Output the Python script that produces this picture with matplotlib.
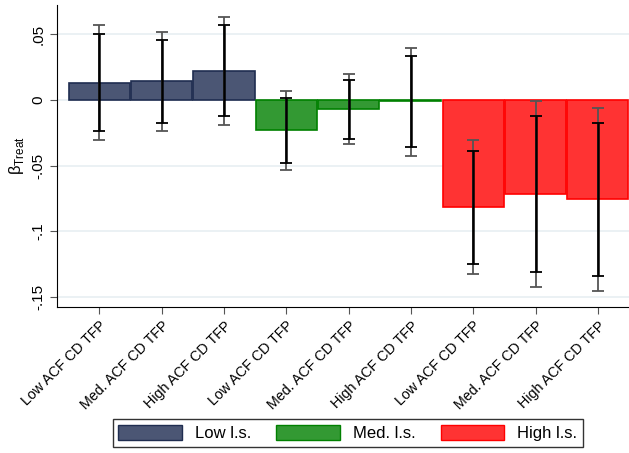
import numpy as np
import matplotlib
matplotlib.use("Agg")
import matplotlib.pyplot as plt
from matplotlib.patches import Patch

plt.rcParams['font.family'] = ['Liberation Sans', 'DejaVu Sans']
plt.rcParams['mathtext.fontset'] = 'custom'
plt.rcParams['mathtext.rm'] = 'Liberation Sans'

labels = ["Low ACF CD TFP", "Med. ACF CD TFP", "High ACF CD TFP"] * 3
groups = ["Low l.s.", "Med. l.s.", "High l.s."]
beta = [0.0132, 0.0142, 0.0219, -0.0231, -0.0066, -0.0005, -0.0816, -0.0714, -0.0757]
ci95_lo = [-0.0305, -0.0236, -0.0190, -0.0531, -0.0338, -0.0429, -0.1329, -0.1423, -0.1453]
ci95_hi = [0.0570, 0.0516, 0.0635, 0.0066, 0.0198, 0.0399, -0.0305, -0.0010, -0.0059]
ci90_lo = [-0.0234, -0.0175, -0.0124, -0.0483, -0.0295, -0.0361, -0.1248, -0.1309, -0.1341]
ci90_hi = [0.0500, 0.0457, 0.0570, 0.0018, 0.0155, 0.0335, -0.0386, -0.0124, -0.0173]

fills = ["#4b5674", "#339933", "#ff3333"]
edges = ["#1f2d50", "#008000", "#ff0000"]

fig = plt.figure(figsize=(6.29, 4.53), dpi=100)
ax = fig.add_axes([0.0906, 0.3223, 0.9094, 0.6667])

x = np.arange(len(beta))
for i in range(len(beta)):
    g = i // 3
    ax.bar(x[i], beta[i], width=0.98, color=fills[g], edgecolor=edges[g], linewidth=1.2, zorder=2)

b = np.array(beta)
ax.errorbar(x, b, yerr=[b - np.array(ci95_lo), np.array(ci95_hi) - b], fmt='none',
            ecolor="#555555", elinewidth=1.3, capsize=4, capthick=1.3, zorder=3)
ax.errorbar(x, b, yerr=[b - np.array(ci90_lo), np.array(ci90_hi) - b], fmt='none',
            ecolor="black", elinewidth=1.8, capsize=4, capthick=1.3, zorder=4)

ax.set_xlim(-0.68, 8.5)
ax.set_ylim(-0.1578, 0.0724)
yt = [0.05, 0, -0.05, -0.1, -0.15]
ax.set_yticks(yt)
ax.set_yticklabels([".05", "0", "-.05", "-.1", "-.15"], rotation=90, va='center', fontsize=11)
ax.grid(axis='y', color="#e8eff2", linewidth=1.2, zorder=0)
ax.set_axisbelow(True)
ax.set_xticks(x)
ax.set_xticklabels(labels, rotation=45, ha='right', rotation_mode='anchor', fontsize=10.3)
ax.tick_params(axis='x', length=5, color="#555555")
ax.tick_params(axis='y', length=5, color="#555555")
ax.spines['top'].set_visible(False)
ax.spines['right'].set_visible(False)
ax.set_ylabel(r"β$_{\mathrm{Treat}}$", fontsize=12, labelpad=4)

handles = [Patch(facecolor=fills[k], edgecolor=edges[k]) for k in range(3)]
fig.legend(handles, groups, loc='center', bbox_to_anchor=(0.553, 0.044), ncol=3,
           fontsize=12, frameon=True, fancybox=False, edgecolor="black",
           handlelength=3.8, handleheight=1.0, columnspacing=1.5, borderpad=0.35)

fig.savefig("out.png", dpi=100)
